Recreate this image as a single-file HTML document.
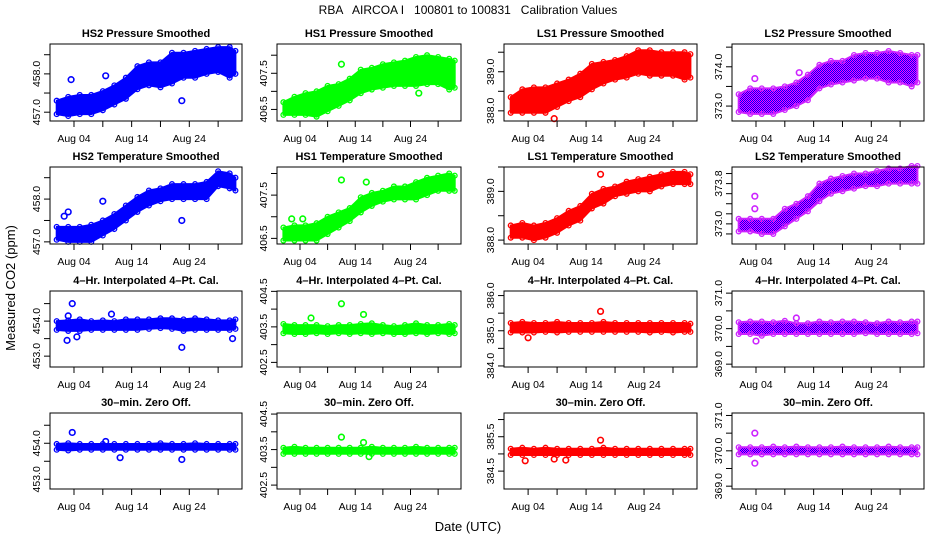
<!DOCTYPE html>
<html><head><meta charset="utf-8"><style>
html,body{margin:0;padding:0;background:#fff}
svg{display:block}
text{font-family:"Liberation Sans",Arial,sans-serif;fill:#000}
</style></head><body>
<svg id="chart" width="936" height="540" viewBox="0 0 936 540" xmlns="http://www.w3.org/2000/svg">
<defs>
<pattern id="ls2pat" width="2" height="2" patternUnits="userSpaceOnUse"><rect width="2" height="2" fill="#ff00ff"/><rect width="1" height="1" fill="#0000ff"/><rect x="1" y="1" width="1" height="1" fill="#0000ff"/></pattern>
</defs>
<text x="468" y="14" font-size="12" text-anchor="middle" xml:space="preserve">RBA   AIRCOA I   100801 to 100831   Calibration Values</text>
<text x="468" y="531" font-size="13" text-anchor="middle">Date (UTC)</text>
<text x="0" y="0" font-size="13" text-anchor="middle" transform="translate(15,288) rotate(-90)">Measured CO2 (ppm)</text>
<g id="panels"></g>
</svg>
<script>
// x positions (day of month) of the band samples
const days = [1,3,5,7,9,11,13,15,17,19,21,23,25,27,29,31,32];
const xTickDays = [4,9,14,19,24,29];
const xTickLabels = {4:"Aug 04",14:"Aug 14",24:"Aug 24"};

// Row 1: pressure smoothed
const hs2PresLo = [456.95,456.9,456.95,456.95,457.05,457.2,457.35,457.6,457.7,457.65,457.75,457.9,457.9,458.0,458.05,457.9,458.0];
const hs2PresHi = [457.3,457.4,457.45,457.45,457.55,457.7,457.9,458.2,458.3,458.3,458.55,458.55,458.6,458.65,458.7,458.7,458.6];
const hs2PresOut = [[3.5,457.85],[22.7,457.3],[9.5,457.95]];
const hs1PresLo = [406.35,406.35,406.35,406.3,406.45,406.6,406.75,406.95,407.05,407.1,407.15,407.15,407.15,407.2,407.2,407.05,407.1];
const hs1PresHi = [406.7,406.85,406.95,407.0,407.15,407.2,407.35,407.6,407.65,407.75,407.8,407.85,407.95,408.0,407.95,407.9,407.85];
const hs1PresOut = [[11.5,407.75],[25.5,406.95]];
const ls1PresLo = [387.95,387.95,387.95,387.95,388.1,388.25,388.35,388.55,388.7,388.8,388.85,388.95,388.9,388.9,388.9,388.8,388.85];
const ls1PresHi = [388.35,388.55,388.6,388.6,388.7,388.8,388.95,389.2,389.25,389.3,389.4,389.55,389.55,389.5,389.5,389.5,389.45];
const ls1PresOut = [[8.5,387.8]];
const ls2PresLo = [372.85,372.8,372.8,372.8,372.9,373.0,373.15,373.45,373.55,373.6,373.65,373.7,373.7,373.6,373.6,373.5,373.6];
const ls2PresHi = [373.3,373.45,373.45,373.45,373.5,373.6,373.8,374.05,374.15,374.15,374.3,374.35,374.35,374.4,374.35,374.3,374.3];
const ls2PresOut = [[3.8,373.7],[11.5,373.85]];
// Row 2: temperature smoothed
const hs2TempLo = [457.05,457.0,457.0,457.0,457.15,457.3,457.5,457.7,457.85,457.95,458.0,458.0,458.0,458.0,458.3,458.25,458.2];
const hs2TempHi = [457.35,457.35,457.35,457.4,457.5,457.65,457.85,458.05,458.2,458.25,458.35,458.35,458.35,458.4,458.65,458.6,458.5];
const hs2TempOut = [[3,457.7],[2.3,457.6],[9,457.95],[22.7,457.5]];
const hs1TempLo = [406.45,406.45,406.45,406.45,406.6,406.75,406.9,407.1,407.25,407.35,407.4,407.4,407.4,407.5,407.6,407.6,407.6];
const hs1TempHi = [406.75,406.8,406.8,406.85,407.0,407.1,407.2,407.45,407.55,407.6,407.7,407.7,407.8,407.9,407.95,408.0,407.95];
const hs1TempOut = [[11.5,407.85],[16,407.8],[2.5,406.95],[4.5,406.95]];
const ls1TempLo = [388.05,388.05,388.0,388.05,388.15,388.3,388.4,388.65,388.75,388.9,388.95,389.0,389.0,389.1,389.15,389.15,389.15];
const ls1TempHi = [388.3,388.35,388.3,388.35,388.45,388.6,388.7,388.95,389.05,389.1,389.2,389.25,389.3,389.35,389.4,389.4,389.35];
const ls1TempOut = [[16.5,389.35]];
const ls2TempLo = [372.85,372.85,372.8,372.8,372.95,373.1,373.25,373.45,373.6,373.65,373.7,373.75,373.75,373.8,373.8,373.8,373.8];
const ls2TempHi = [373.1,373.1,373.1,373.1,373.3,373.4,373.55,373.8,373.9,373.95,374.0,374.0,374.05,374.1,374.1,374.15,374.15];
const ls2TempOut = [[3.8,373.55],[3.8,373.3]];
// Row 3: 4-hr interpolated 4-pt cal
const hs2CalLo = [453.75,453.72,453.72,453.75,453.75,453.75,453.75,453.75,453.78,453.8,453.78,453.72,453.75,453.75,453.75,453.75,453.78];
const hs2CalHi = [454.0,454.02,454.05,454.0,454.02,454.0,454.05,454.05,454.05,454.08,454.08,454.05,454.08,454.05,454.02,454.02,454.05];
const hs2CalOut = [[3.7,454.5],[10.5,454.2],[2.8,453.45],[22.7,453.25],[31.5,453.5],[4.5,453.55],[3,454.15]];
const hs1CalLo = [403.32,403.3,403.3,403.32,403.3,403.32,403.3,403.32,403.3,403.32,403.3,403.3,403.32,403.3,403.32,403.3,403.32];
const hs1CalHi = [403.58,403.55,403.55,403.55,403.52,403.55,403.55,403.58,403.6,403.55,403.52,403.55,403.6,403.55,403.55,403.58,403.55];
const hs1CalOut = [[11.5,404.15],[15.5,403.85],[6,403.75]];
const ls1CalLo = [384.95,384.95,384.95,384.97,384.95,384.97,384.97,384.97,384.97,384.97,384.97,384.97,384.95,384.97,384.95,384.97,384.97];
const ls1CalHi = [385.22,385.25,385.22,385.22,385.25,385.22,385.22,385.22,385.25,385.22,385.22,385.22,385.22,385.22,385.22,385.22,385.2];
const ls1CalOut = [[16.5,385.55],[4,384.8]];
const ls2CalLo = [369.85,369.85,369.8,369.85,369.85,369.85,369.85,369.85,369.85,369.85,369.85,369.87,369.85,369.85,369.85,369.85,369.87];
const ls2CalHi = [370.18,370.2,370.2,370.18,370.22,370.15,370.15,370.2,370.18,370.2,370.2,370.18,370.15,370.2,370.18,370.2,370.2];
const ls2CalOut = [[4,369.65],[11,370.3]];
// Row 4: 30-min zero offset
const hs2ZeroLo = [453.82,453.8,453.82,453.82,453.82,453.82,453.82,453.82,453.82,453.82,453.82,453.82,453.82,453.82,453.82,453.82,453.82];
const hs2ZeroHi = [453.98,454.0,453.98,453.98,453.98,453.98,453.98,453.98,453.98,454.0,453.98,453.98,454.0,453.98,453.98,453.98,453.98];
const hs2ZeroOut = [[3.7,454.3],[12,453.6],[22.7,453.55],[9.5,454.05]];
const hs1ZeroLo = [403.38,403.38,403.38,403.38,403.38,403.38,403.38,403.38,403.38,403.38,403.38,403.38,403.38,403.38,403.38,403.38,403.38];
const hs1ZeroHi = [403.55,403.58,403.55,403.55,403.55,403.55,403.55,403.55,403.58,403.55,403.55,403.55,403.58,403.55,403.55,403.55,403.55];
const hs1ZeroOut = [[11.5,403.85],[15.5,403.7],[16.5,403.3]];
const ls1ZeroLo = [384.97,384.97,384.97,384.97,384.97,384.97,384.97,384.97,384.97,384.97,384.97,384.97,384.97,384.97,384.97,384.97,384.97];
const ls1ZeroHi = [385.15,385.18,385.15,385.18,385.15,385.15,385.15,385.15,385.18,385.15,385.15,385.15,385.15,385.15,385.15,385.15,385.15];
const ls1ZeroOut = [[16.5,385.4],[3.5,384.8],[8.5,384.85],[10.5,384.82]];
const ls2ZeroLo = [369.9,369.9,369.9,369.9,369.9,369.9,369.9,369.9,369.9,369.9,369.9,369.9,369.9,369.9,369.9,369.9,369.9];
const ls2ZeroHi = [370.1,370.1,370.1,370.12,370.1,370.12,370.1,370.1,370.1,370.12,370.1,370.1,370.1,370.12,370.1,370.1,370.1];
const ls2ZeroOut = [[3.8,370.5],[3.8,369.65]];

const cols = [[50,242],[277,461],[504,697],[732,924]];
const rows = [[44,121],[167,244],[291,367],[413,489]];
const colColors = ["#0000ff","#00ff00","#ff0000","url(#ls2pat)"];
const colStroke = ["#0000ff","#00ff00","#ff0000","#cc22ff"];
const colKey = ["hs2","hs1","ls1","ls2"];

const panels = [
 {title:"HS2 Pressure Smoothed",dom:[456.77,458.78],ticks:[457,457.5,458,458.5],labels:[457,458],lo:hs2PresLo,hi:hs2PresHi,out:hs2PresOut},
 {title:"HS1 Pressure Smoothed",dom:[406.18,408.31],ticks:[406.5,407,407.5,408],labels:[406.5,407.5],lo:hs1PresLo,hi:hs1PresHi,out:hs1PresOut},
 {title:"LS1 Pressure Smoothed",dom:[387.74,389.71],ticks:[388,388.5,389,389.5],labels:[388,389],lo:ls1PresLo,hi:ls1PresHi,out:ls1PresOut},
 {title:"LS2 Pressure Smoothed",dom:[372.62,374.58],ticks:[373,373.5,374,374.5],labels:[373,374],lo:ls2PresLo,hi:ls2PresHi,out:ls2PresOut},
 {title:"HS2 Temperature Smoothed",dom:[456.95,458.75],ticks:[457,457.5,458,458.5],labels:[457,458],lo:hs2TempLo,hi:hs2TempHi,out:hs2TempOut},
 {title:"HS1 Temperature Smoothed",dom:[406.37,408.15],ticks:[406.5,407,407.5,408],labels:[406.5,407.5],lo:hs1TempLo,hi:hs1TempHi,out:hs1TempOut},
 {title:"LS1 Temperature Smoothed",dom:[387.92,389.5],ticks:[388,388.5,389,389.5],labels:[388,389],lo:ls1TempLo,hi:ls1TempHi,out:ls1TempOut},
 {title:"LS2 Temperature Smoothed",dom:[372.6,374.13],ticks:[372.8,373,373.2,373.4,373.6,373.8,374],labels:[373,373.8],lo:ls2TempLo,hi:ls2TempHi,out:ls2TempOut},
 {title:"4\u2013Hr. Interpolated 4\u2013Pt. Cal.",dom:[452.69,454.86],ticks:[453,453.5,454,454.5],labels:[453,454],lo:hs2CalLo,hi:hs2CalHi,out:hs2CalOut},
 {title:"4\u2013Hr. Interpolated 4\u2013Pt. Cal.",dom:[402.37,404.51],ticks:[402.5,403,403.5,404,404.5],labels:[402.5,403.5,404.5],lo:hs1CalLo,hi:hs1CalHi,out:hs1CalOut},
 {title:"4\u2013Hr. Interpolated 4\u2013Pt. Cal.",dom:[383.97,386.13],ticks:[384,384.5,385,385.5,386],labels:[384,385,386],lo:ls1CalLo,hi:ls1CalHi,out:ls1CalOut},
 {title:"4\u2013Hr. Interpolated 4\u2013Pt. Cal.",dom:[368.92,371.06],ticks:[369,369.5,370,370.5,371],labels:[369,370,371],lo:ls2CalLo,hi:ls2CalHi,out:ls2CalOut},
 {title:"30\u2013min. Zero Off.",dom:[452.73,454.84],ticks:[453,453.5,454,454.5],labels:[453,454],lo:hs2ZeroLo,hi:hs2ZeroHi,out:hs2ZeroOut},
 {title:"30\u2013min. Zero Off.",dom:[402.39,404.53],ticks:[402.5,403,403.5,404,404.5],labels:[402.5,403.5,404.5],lo:hs1ZeroLo,hi:hs1ZeroHi,out:hs1ZeroOut},
 {title:"30\u2013min. Zero Off.",dom:[383.98,386.19],ticks:[384.5,385,385.5,386],labels:[384.5,385.5],lo:ls1ZeroLo,hi:ls1ZeroHi,out:ls1ZeroOut},
 {title:"30\u2013min. Zero Off.",dom:[368.92,371.07],ticks:[369,369.5,370,370.5,371],labels:[369,370,371],lo:ls2ZeroLo,hi:ls2ZeroHi,out:ls2ZeroOut}
];

const NS = "http://www.w3.org/2000/svg";
const root = document.getElementById("panels");
function mk(tag, attrs, parent){const e=document.createElementNS(NS,tag);for(const k in attrs)e.setAttribute(k,attrs[k]);parent.appendChild(e);return e;}

panels.forEach((p,i)=>{
  const r=Math.floor(i/4), c=i%4;
  const [x0,x1]=cols[c], [y0,y1]=rows[r];
  const xs = d => { const dayPx=(x1-x0)/33.3; return x0 + (d+0.16)*dayPx; };
  const ys = v => y1 - (v-p.dom[0])/(p.dom[1]-p.dom[0])*(y1-y0);
  const g = mk("g",{},root);
  
  
  const t = mk("text",{x:(x0+x1)/2,y:y0-7,"font-size":"11","font-weight":"bold","text-anchor":"middle"},g);
  t.textContent = p.title;
  
  
  let pts=[];
  days.forEach((d,k)=>pts.push(xs(d).toFixed(1)+","+ys(p.hi[k]).toFixed(1)));
  for(let k=days.length-1;k>=0;k--) pts.push(xs(days[k]).toFixed(1)+","+ys(p.lo[k]).toFixed(1));
  const band = mk("polygon",{points:pts.join(" "),fill:colColors[c],stroke:colStroke[c],"stroke-width":"2","stroke-linejoin":"round"},g);
  
  
  days.forEach((d,k)=>{
    [p.lo[k],p.hi[k]].forEach(v=>{
      const cc = mk("circle",{cx:xs(d),cy:ys(v),r:2.4,fill:"none",stroke:colStroke[c],"stroke-width":"1.3"},g);
      
      
    });
  });
  p.out.forEach(o=>{
    const cc = mk("circle",{cx:xs(o[0]),cy:ys(o[1]),r:2.8,fill:"none",stroke:colStroke[c],"stroke-width":"1.6"},g);
    
    
  });
  const fr = mk("rect",{x:x0,y:y0,width:x1-x0,height:y1-y0,fill:"none",stroke:"#000","stroke-width":"1"},g);
  
  
  xTickDays.forEach(d=>{
    const X=xs(d);
    const tk = mk("line",{x1:X,x2:X,y1:y1,y2:y1+6,stroke:"#000"},g);
    
    
    if(xTickLabels[d]){
      const lt = mk("text",{x:X,y:y1+21,"font-size":"10.5","text-anchor":"middle"},g);
      lt.textContent = xTickLabels[d];
      
      
    }
  });
  p.ticks.forEach(v=>{
    const Y=ys(v);
    const tk = mk("line",{x1:x0-6,x2:x0,y1:Y,y2:Y,stroke:"#000"},g);
    
    
  });
  p.labels.forEach(v=>{
    const Y=ys(v);
    const lt = mk("text",{x:0,y:0,"font-size":"10.5","text-anchor":"middle",transform:"translate("+(x0-10)+","+Y.toFixed(1)+") rotate(-90)"},g);
    lt.textContent = v.toFixed(1);
    
    
  });
});
</script>
</body></html>
